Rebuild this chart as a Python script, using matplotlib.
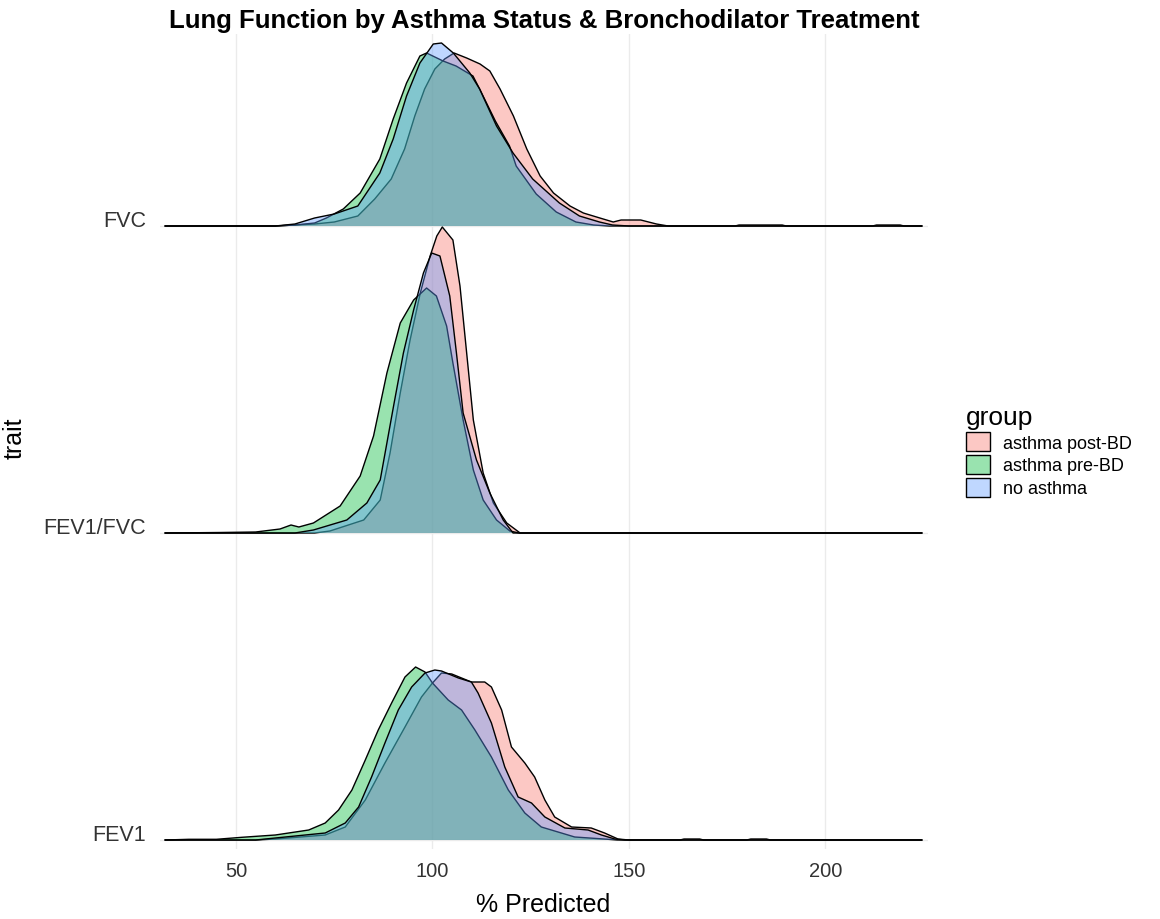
import numpy as np
import matplotlib
matplotlib.use("Agg")
import matplotlib.pyplot as plt
from matplotlib.patches import Patch

plt.rcParams['font.family'] = ['Liberation Sans', 'DejaVu Sans']

# ridge order bottom -> top
traits = ['FEV1', 'FEV1/FVC', 'FVC']
groups = ['asthma post-BD', 'asthma pre-BD', 'no asthma']
colors = ['#F8766D', '#00BA38', '#619CFF']

# full x range covered by the density lines
x_range = (32.0, 224.5)

# scaled densities (heights in pixels of one ridge spacing)
# FVC
fvc_post_x = [60, 65, 70, 75, 81, 85.3, 89.5, 92.9, 95.5, 98, 100.6, 103.1, 105.5, 108.7, 112.1,
              114.6, 117.2, 120.6, 124, 127.4, 130.8, 135, 138.4, 142.6, 146, 148, 153, 157, 160,
              177, 178, 189, 190, 212, 213, 219, 220]
fvc_post_h = [0, 1, 2, 4, 10, 27, 47, 77, 110, 137, 157, 167, 173, 168, 162,
              155, 137, 110, 77, 50, 33, 20, 13, 8, 4, 6, 6, 2, 0,
              0, 1, 1, 0, 0, 1, 1, 0]
fvc_pre_x = [60, 65, 70, 73, 77.3, 81.6, 86.6, 90, 93.4, 96.8, 98.5, 102.7, 106, 110.3, 112,
             116, 119.6, 121.3, 126.4, 131.5, 136.5, 141, 145]
fvc_pre_h = [0, 1, 3, 8, 17, 33, 67, 107, 143, 170, 173, 165, 160, 150, 137,
             105, 80, 60, 32, 14, 4, 1, 0]
fvc_none_x = [60, 65, 70, 75, 81, 86.6, 90, 93.4, 96.8, 100.2, 102.3, 105.3, 109.5, 112, 116.3,
              120.5, 125.5, 132.3, 137.4, 142.5, 145.8, 150]
fvc_none_h = [0, 2, 8, 12, 20, 53, 87, 130, 163, 182, 183, 173, 153, 137, 100,
              73, 47, 23, 10, 4, 1, 0]

# FEV1/FVC
ratio_post_x = [70, 73.9, 82.5, 86.7, 89.2, 91.8, 94.3, 96.9, 99.4, 101.1, 102.5, 105.2, 107,
                108.7, 110.4, 112.9, 115.5, 118.9, 122.3]
ratio_post_h = [0, 2, 13, 33, 80, 140, 193, 240, 277, 297, 306, 293, 247,
                180, 113, 60, 30, 10, 0]
ratio_pre_x = [46, 55, 61.2, 64, 66, 69.7, 76.5, 81.6, 85, 88.4, 91.8, 95.2, 98.5, 101, 103.6,
               105.2, 107.8, 110.4, 112.9, 116.3, 119.7, 122]
ratio_pre_h = [0.5, 1, 4, 8, 6, 10, 27, 57, 97, 160, 210, 233, 245, 237, 207,
               170, 113, 63, 33, 13, 2, 0]
ratio_none_x = [65, 69.7, 78.2, 83.3, 86.7, 90.1, 92.6, 95.2, 97.7, 99.8, 101.9, 104.4, 106.1,
                107.8, 111.2, 114.6, 118, 120.5]
ratio_none_h = [0, 3, 13, 30, 53, 127, 180, 223, 260, 280, 277, 237, 180,
                120, 73, 40, 13, 0]

# FEV1
fev1_post_x = [55, 60, 72.7, 77.8, 82.9, 87.9, 93, 97.2, 100, 102.3, 104.9, 109.9, 113.3, 115,
               117.6, 120.1, 123.5, 126, 128.6, 131.1, 135.4, 140.4, 143.8, 147.2, 150,
               163, 164, 168, 169, 180, 181, 185, 186]
fev1_post_h = [0, 1, 5, 13, 40, 77, 113, 143, 157, 167, 166, 158, 158, 153,
               130, 93, 77, 63, 40, 23, 13, 12, 7, 1, 0,
               0, 1, 1, 0, 0, 1, 1, 0]
fev1_pre_x = [38, 45, 51.5, 60, 68.5, 72.7, 76.1, 79.5, 82.9, 86.2, 89.6, 93, 95.7, 98.1, 100,
              104, 107.4, 110.8, 115, 119.3, 123.5, 127.7, 136.2, 144.7, 147]
fev1_pre_h = [0.7, 0.7, 2.7, 5, 10, 17, 30, 50, 80, 110, 137, 163, 173, 168, 157,
              140, 130, 110, 83, 50, 27, 13, 3, 0.7, 0]
fev1_none_x = [55, 60, 72.7, 77.8, 81.2, 84.5, 87.9, 91.3, 94.7, 98.1, 100.6, 102.3, 106.6, 109.9,
               111.6, 115, 118.4, 121.8, 125.2, 128.6, 133.7, 139.6, 143, 146.4, 149]
fev1_none_h = [0, 2, 7, 17, 33, 63, 97, 130, 153, 167, 170, 169, 162, 158,
               147, 117, 73, 43, 37, 23, 12, 10, 5, 1, 0]

ridge_scale = 307.0

curves = {
    'FVC': [(fvc_post_x, fvc_post_h), (fvc_pre_x, fvc_pre_h), (fvc_none_x, fvc_none_h)],
    'FEV1/FVC': [(ratio_post_x, ratio_post_h), (ratio_pre_x, ratio_pre_h), (ratio_none_x, ratio_none_h)],
    'FEV1': [(fev1_post_x, fev1_post_h), (fev1_pre_x, fev1_pre_h), (fev1_none_x, fev1_none_h)],
}

fig = plt.figure(figsize=(11.6, 9.2), dpi=100)
ax = fig.add_axes([160 / 1160, 1 - 850 / 920, 768 / 1160, 815 / 920])

ax.set_xlim(30.66, 226.1)
ax.set_ylim(1 - 9 / ridge_scale, 3 + 192 / ridge_scale)

for xv in [50, 100, 150, 200]:
    ax.axvline(xv, color='#EBEBEB', lw=1.0, zorder=0)
for i in range(len(traits)):
    ax.axhline(i + 1, color='#EBEBEB', lw=1.0, zorder=0)

# top ridge drawn first so the lower ones overlap it
for pos in range(len(traits) - 1, -1, -1):
    trait = traits[pos]
    base = pos + 1
    for (xs, hs), col in zip(curves[trait], colors):
        x = np.concatenate([[x_range[0]], xs, [x_range[1]]])
        h = np.concatenate([[0], hs, [0]]) / ridge_scale
        ax.fill_between(x, base, base + h, facecolor=col, alpha=0.4, lw=0, zorder=2)
        ax.plot(x, base + h, color='black', lw=1.0, zorder=2)

ax.set_yticks([1, 2, 3])
ax.set_yticklabels(traits)
for lab in ax.get_yticklabels():
    lab.set_va('baseline')
ax.set_xticks([50, 100, 150, 200])
ax.tick_params(axis='both', length=0, labelsize=14.5, colors='#333333')
ax.tick_params(axis='y', pad=10, labelsize=15.5)
ax.tick_params(axis='x', pad=9)
for s in ax.spines.values():
    s.set_visible(False)

fig.text(543 / 1160, 1 - 905 / 920, '% Predicted', ha='center', va='center', fontsize=18, color='black')
fig.text(15 / 1160, 1 - 438 / 920, 'trait', ha='center', va='center', rotation=90, fontsize=18)
fig.text(544 / 1160, 1 - 21 / 920, 'Lung Function by Asthma Status & Bronchodilator Treatment',
         ha='center', va='center', fontsize=18.5, fontweight='bold')

handles = [Patch(facecolor=matplotlib.colors.to_rgba(c, 0.4), edgecolor='black', lw=1.0) for c in colors]
leg = fig.legend(handles, groups, title='group', loc='center left',
                 bbox_to_anchor=(966 / 1160, 1 - 452 / 920), frameon=False,
                 fontsize=13, title_fontsize=19, handlelength=1.33, handleheight=1.2,
                 labelspacing=0.2, handletextpad=0.7, borderaxespad=0, borderpad=0)
leg._legend_box.align = 'left'

fig.savefig('out.png', dpi=100)
